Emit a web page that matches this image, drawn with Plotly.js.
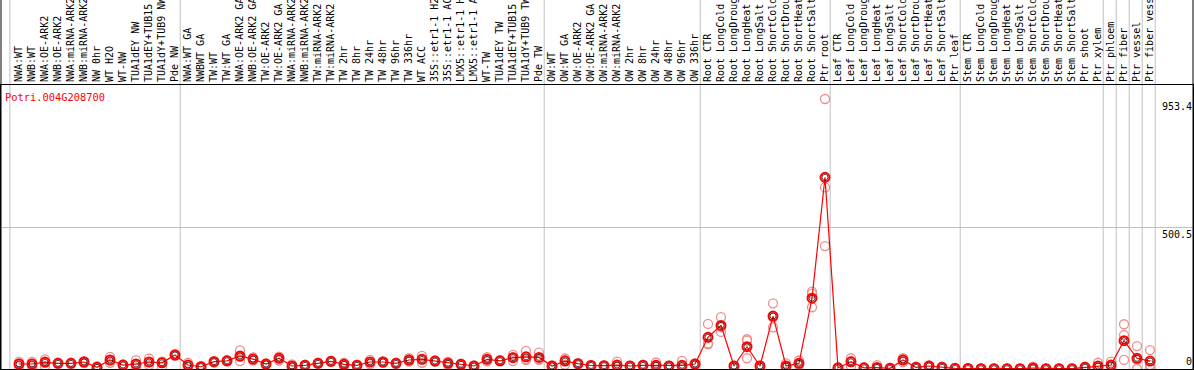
<!DOCTYPE html>
<html>
<head>
<meta charset="utf-8">
<script src="https://cdn.plot.ly/plotly-3.0.1.min.js"></script>
<style>html,body{margin:0;padding:0;background:#fff;}#chart{width:1194px;height:370px;}</style>
</head>
<body>
<div id="chart"></div>
<script>
var geneTitle = "Potri.004G208700";
var categories = [
"NWA:WT","NWB:WT","NWA:OE-ARK2","NWB:OE-ARK2","NWA:miRNA-ARK2","NWB:miRNA-ARK2","NW 0hr","WT H2O","WT-NW","TUA1dEY NW","TUA1dEY+TUB15 NW","TUA1dY+TUB9 NW","Pde NW",
"NWA:WT GA","NWBWT GA","TW:WT","TW:WT GA","NWA:OE-ARK2 GA","NWB:OE-ARK2 GA","TW:OE-ARK2","TW:OE-ARK2 GA","NWA:miRNA-ARK2","NWB:miRNA-ARK2","TW:miRNA-ARK2","TW:miRNA-ARK2","TW 2hr","TW 8hr","TW 24hr","TW 48hr","TW 96hr","TW 336hr","WT ACC","35S::etr1-1 H2O","35S::etr1-1 ACC","LMX5::etr1-1 H2O","LMX5::etr1-1 ACC","WT-TW","TUA1dEY TW","TUA1dEY+TUB15 TW","TUA1dY+TUB9 TW","Pde TW",
"OW:WT","OW:WT GA","OW:OE-ARK2","OW:OE-ARK2 GA","OW:miRNA-ARK2","OW:miRNA-ARK2","OW 2hr","OW 8hr","OW 24hr","OW 48hr","OW 96hr","OW 336hr",
"Root CTR","Root LongCold","Root LongDrought","Root LongHeat","Root LongSalt","Root ShortCold","Root ShortDrought","Root ShortHeat","Root ShortSalt","Ptr root",
"Leaf CTR","Leaf LongCold","Leaf LongDrought","Leaf LongHeat","Leaf LongSalt","Leaf ShortCold","Leaf ShortDrought","Leaf ShortHeat","Leaf ShortSalt","Ptr leaf",
"Stem CTR","Stem LongCold","Stem LongDrought","Stem LongHeat","Stem LongSalt","Stem ShortCold","Stem ShortDrought","Stem ShortHeat","Stem ShortSalt","Ptr shoot",
"Ptr xylem","Ptr phloem","Ptr fiber","Ptr vessel","Ptr fiber vessel"
];
var meanValues = [
17.7,17.7,23.7,20,20,24.7,6,31.8,14,17.7,24.7,22,49.4,
14,8,25.8,29,45.9,35,17.7,37.8,10.6,13,20,27,16.6,13,24.7,24.7,20,31.8,34,28,20,16.6,10.6,34,29,40,43,41,
10.6,28,18.7,12.4,11.7,14,10.6,13,13,10.6,13,17.7,
112,154,10.6,78.7,10.6,187,10.6,20,250,677,
4.2,25.4,4.2,5.3,2.5,31.8,6,10.6,6,2.5,
1.8,1,1,1,1,3.5,1,1,1,6,
10.6,14,100,37.8,28
];
var rep1 = [
25,25,34,22,22,28,10,43,16,31,37,26,52,
22,10,28,31,66,41,20,44,16,15,22,29,22,15,32,27,22,38,46,30,26,19,13,42,31,50,64,58,
13,37,21,14,13,26,12,15,23,12,29,20,
159,183,12,105,12,232,20,30,273,953.4,
6,38,6,14,4,33,8,13,8,3,
2,1.2,1.2,1.2,1.2,8,1.2,1.2,1.2,8,
22,26,158,81,67
];
var rep2 = [
8,9,10,18,18,21,2,22,12,6,14,8,47,
6,6,23,27,28,30,15,30,6,11,18,25,11,11,17,22,18,26,22,26,15,14,8,27,27,28,35,32,
8,15,16,10,10,8,9,11,8,9,4,15,
90,131,9,100,9,147,5,14,218,434,
3,10,3,1,1,24,4,8,4,2,
1.5,0.8,0.8,0.8,0.8,1,0.8,0.8,0.8,4,
4,6,120,0,14
];
var rep3 = [
20,19,27,20,20,25,6,31,14,17,24,24,49,
14,8,26,29,43,35,18,39,10,13,20,27,17,13,25,25,20,31,34,28,20,17,11,34,29,42,31,34,
11,32,19,13,12,8,11,13,9,11,5,18,
87,148,11,38,11,182,7,16,266,641,
4,28,4,1,2.5,38,6,11,6,2.5,
2,1,1,1,1,1.5,1,1,1,6,
6,10,32,32,3
];
var separators = [-0.7,12.4,40.4,52.4,62.4,72.4,83.4,84.4,85.4,86.4,87.4];
var yTickVals = [0,500.5,953.4];
var yTickText = ["0","500.5","953.4"];

var xs = categories.map(function(_, i){ return i; });
var FONT = "DejaVu Sans Mono, Liberation Mono, monospace";
var repColor = "rgb(240,140,140)";

var traces = [];
[rep1, rep2, rep3].forEach(function(r){
  traces.push({
    x: xs, y: r, type: "scatter", mode: "markers", hoverinfo: "skip",
    marker: {symbol: "circle-open", size: 9, color: repColor, line: {width: 1.3, color: repColor}}
  });
});
traces.push({
  x: xs, y: meanValues, type: "scatter", mode: "lines+markers",
  line: {color: "#ff0000", width: 1.2},
  marker: {symbol: "circle-open", size: 9, color: "#ff0000", line: {width: 2, color: "#ff0000"}}
});
traces.push({
  x: xs, y: meanValues, type: "scatter", mode: "markers", hoverinfo: "skip",
  marker: {symbol: "circle-open", size: 6, color: "#000000", line: {width: 0.7, color: "#000000"}}
});

var topPaper = 369 / 284;
var shapes = separators.map(function(s){
  return {type: "line", xref: "x", yref: "paper", x0: s, x1: s, y0: 0, y1: topPaper,
          line: {color: "#c0c0c0", width: 1}, layer: "below"};
});
shapes.push({type: "line", xref: "paper", yref: "paper", x0: 0, x1: 0, y0: 0, y1: topPaper, line: {color: "#000", width: 1}});
shapes.push({type: "line", xref: "paper", yref: "paper", x0: 1, x1: 1, y0: 0, y1: topPaper, line: {color: "#000", width: 1}});

var annotations = yTickVals.map(function(v, i){
  return {xref: "paper", yref: "y", x: 1, y: v, text: yTickText[i], showarrow: false,
          xanchor: "right", yanchor: (v === 0 ? "bottom" : "top"), xshift: 1,
          font: {family: FONT, size: 10, color: "#000"}};
});

var layout = {
  width: 1194, height: 370,
  margin: {l: 1, r: 1, t: 85, b: 1, pad: 0},
  paper_bgcolor: "#fff", plot_bgcolor: "#fff",
  showlegend: false,
  title: {text: geneTitle, x: 5/1194, xanchor: "left", xref: "container",
          y: 1 - 97/370, yanchor: "middle", yref: "container",
          font: {family: FONT, size: 10.4, color: "#ff0000"}},
  xaxis: {
    range: [-18/13, 1174/13], side: "top", tickmode: "array", tickvals: xs, ticktext: categories,
    tickangle: -90, ticks: "", showgrid: false, zeroline: false,
    showline: true, mirror: true, linecolor: "#000", linewidth: 1,
    tickfont: {family: FONT, size: 10, color: "#000"}, automargin: false
  },
  yaxis: {
    range: [0, 1002.8], showticklabels: false, ticks: "", showgrid: false, zeroline: false,
    showline: true, mirror: true, linecolor: "#000", linewidth: 1,
    minor: {tickmode: "array", tickvals: [500.5], showgrid: true, gridcolor: "#c0c0c0", gridwidth: 1, ticks: ""},
    automargin: false
  },
  shapes: shapes,
  annotations: annotations
};
Plotly.newPlot("chart", traces, layout, {staticPlot: true, displayModeBar: false});
</script>
</body>
</html>
